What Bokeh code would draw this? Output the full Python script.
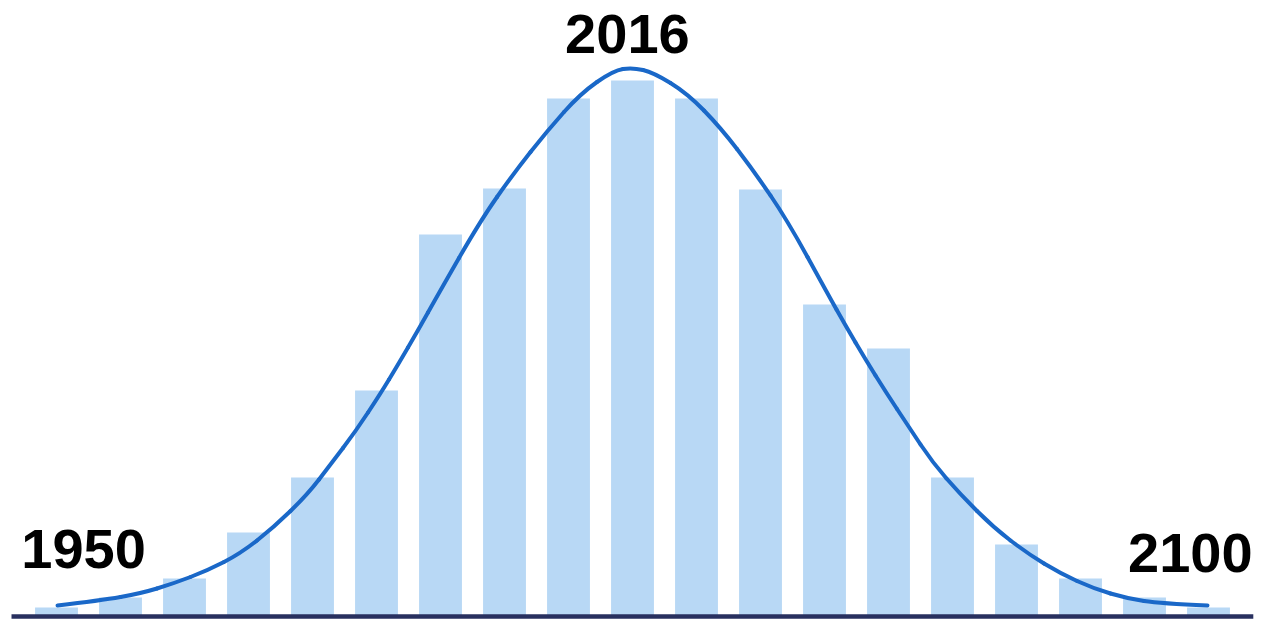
from bokeh.plotting import figure
from bokeh.models import ColumnDataSource, Range1d
from bokeh.core.properties import value
from bokeh.embed import file_html
from bokeh.resources import INLINE

# Bars (position index 1..19, height)
bar_pos = list(range(1, 20))
bar_values = [8, 18, 37, 83, 138, 225, 381, 427, 517, 535, 517, 426, 311, 267, 138, 71, 37, 18, 8]

# Fitted curve (position in bar units, height)
curve_x = [1.016, 1.688, 2.313, 2.828, 3.359, 3.875, 4.391, 4.922, 5.281, 5.672,
           6.063, 6.328, 6.656, 6.953, 7.625, 8.141, 8.672, 9.188, 9.703, 10.0,
           10.328, 10.859, 11.375, 11.891, 12.422, 13.047, 13.328, 13.641, 13.953,
           14.313, 14.688, 15.125, 15.641, 16.172, 16.688, 17.203, 17.734, 18.25, 18.984]
curve_y = [10, 15, 22, 32, 45, 62, 88, 121, 151, 184,
           222, 250, 286, 320, 395, 442, 485, 522, 545, 548,
           543, 522, 488, 445, 395, 322, 290, 256, 224,
           189, 153, 121, 88, 62, 42, 27, 17, 12, 10]

# Year labels
labels = ["1950", "2016", "2100"]

W, H = 1275, 637
p = figure(width=W, height=H, output_backend="svg", toolbar_location=None,
           x_range=Range1d(0.125, 20.046875), y_range=Range1d(-22, 615),
           min_border=0, outline_line_color=None)
p.axis.visible = False
p.grid.visible = False
p.background_fill_color = "white"
p.border_fill_color = "white"

src = ColumnDataSource(dict(x=bar_pos, top=bar_values))
p.vbar(x="x", top="top", bottom=0, width=0.67, source=src,
       fill_color="#b8d8f5", line_color=None)

# baseline
p.line(x=[0.297, 19.70], y=[-1, -1], line_color="#28305f", line_width=4.5)

# smooth curve: quadratic segments between midpoints, read points as controls
n = len(curve_x)
mx = [curve_x[0]] + [(curve_x[i] + curve_x[i + 1]) / 2 for i in range(1, n - 2)] + [curve_x[-1]]
my = [curve_y[0]] + [(curve_y[i] + curve_y[i + 1]) / 2 for i in range(1, n - 2)] + [curve_y[-1]]
qsrc = ColumnDataSource(dict(x0=mx[:-1], y0=my[:-1], x1=mx[1:], y1=my[1:],
                             cx=curve_x[1:-1], cy=curve_y[1:-1]))
p.quadratic(x0="x0", y0="y0", x1="x1", y1="y1", cx="cx", cy="cy", source=qsrc,
            line_color="#1a68c8", line_width=4, line_cap="round")

# labels
lab_x = [0.45, 9.92, 19.69]
lab_y = [67, 582, 63]
aligns = ["left", "center", "right"]
for i in range(3):
    p.text(x=[lab_x[i]], y=[lab_y[i]], text=[labels[i]],
           text_font=value("Liberation Sans"), text_font_style="bold",
           text_font_size="56px", text_color="black",
           text_align=aligns[i], text_baseline="alphabetic")

open("out.html", "w").write(file_html(p, INLINE))
